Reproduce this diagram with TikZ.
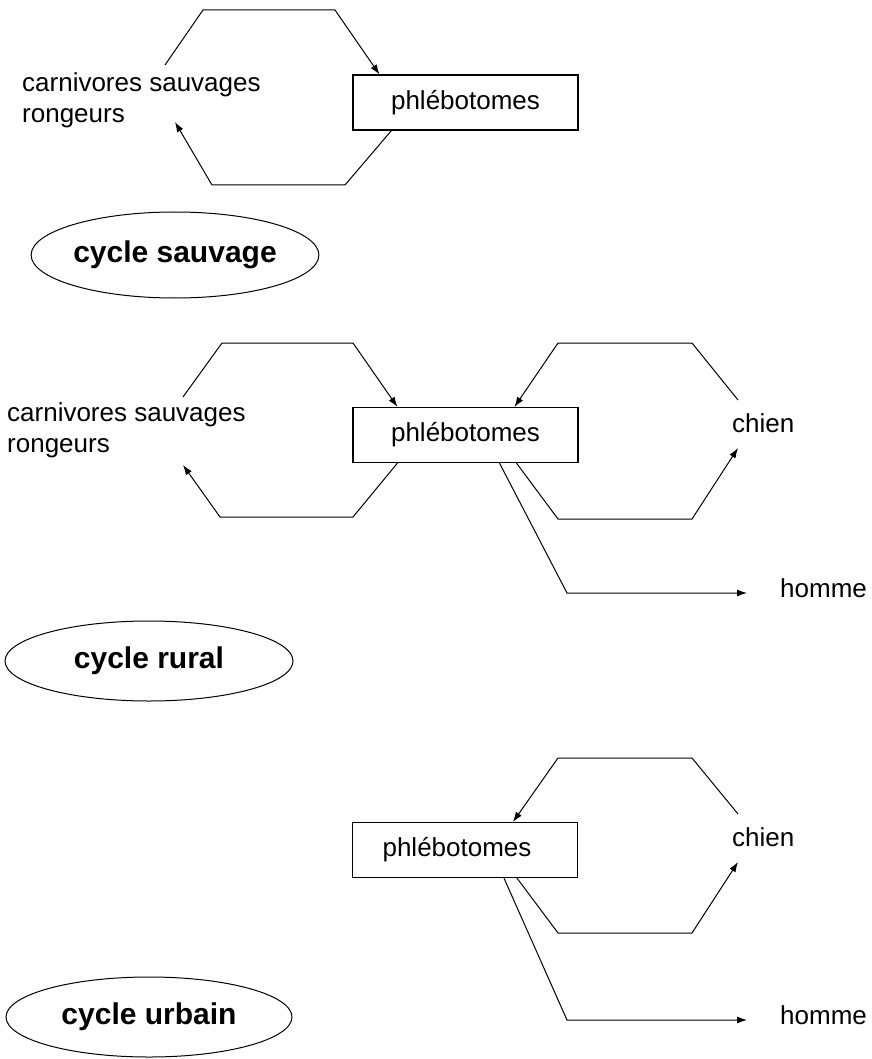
\documentclass[tikz,border=0pt]{standalone}
\usepackage{fontspec}
\setmainfont{Liberation Sans}
\usetikzlibrary{arrows.meta,shapes.geometric}
\tikzset{
  lbl/.style={font=\fontsize{26}{31}\selectfont, inner sep=0pt, align=left},
  vbox/.style={draw, line width=1.1pt, minimum width=225pt, minimum height=55pt, inner sep=0pt, font=\fontsize{26}{31}\selectfont},
  cyc/.style={draw, ellipse, line width=1pt, inner sep=0pt, font=\fontsize{30}{36}\selectfont\bfseries},
  arr/.style={line width=1pt, -{Latex[length=10pt,width=7pt]}}
}
\begin{document}
\begin{tikzpicture}[x=1pt,y=-1pt]
\useasboundingbox (0,0) rectangle (871,1059);
% ---------- cycle sauvage ----------
\node[vbox] (b1) at (465.5,102.5) {phlébotomes};
\node[lbl, anchor=west] (h1) at (22,100) {carnivores sauvages\\rongeurs};
\coordinate (a1) at (165,65);
\coordinate (a2) at (203,10);
\coordinate (a3) at (335,10);
\coordinate (a4) at (345,185);
\coordinate (a5) at (212,185);
\coordinate (a6) at (175,122);
\draw[arr] (a1) -- (a2) -- (a3) -- ([xshift=27pt]b1.north west);
\draw[arr] ([xshift=39pt]b1.south west) -- (a4) -- (a5) -- (a6);
\node[cyc, minimum width=281pt, minimum height=86pt] (e1) at (175,255) {cycle sauvage};
% ---------- cycle rural ----------
\node[vbox] (b2) at (465.5,435) {phlébotomes};
\node[lbl, anchor=west] (h2) at (7,430) {carnivores sauvages\\rongeurs};
\coordinate (c1) at (183,397);
\coordinate (c2) at (222,343);
\coordinate (c3) at (353,343);
\coordinate (c4) at (353,517);
\coordinate (c5) at (220,517);
\coordinate (c6) at (183,465);
\draw[arr] (c1) -- (c2) -- (c3) -- ([xshift=45pt]b2.north west);
\draw[arr] ([xshift=45pt]b2.south west) -- (c4) -- (c5) -- (c6);
\node[lbl, anchor=west] (d2) at (732,423) {chien};
\node[lbl, anchor=west] (m2) at (780,588) {homme};
\coordinate (r1) at (738,400);
\coordinate (r2) at (692,343);
\coordinate (r3) at (558,343);
\coordinate (r4) at (558,519);
\coordinate (r5) at (692,519);
\coordinate (r6) at (738,448);
\coordinate (k1) at (567,593);
\coordinate (k2) at (747,593);
\draw[arr] (r1) -- (r2) -- (r3) -- ([xshift=162pt]b2.north west);
\draw[arr] ([xshift=164pt]b2.south west) -- (r4) -- (r5) -- (r6);
\draw[arr] ([xshift=147pt]b2.south west) -- (k1) -- (k2);
\node[cyc, minimum width=288pt, minimum height=80pt] (e2) at (149,661) {cycle rural};
% ---------- cycle urbain ----------
\node[vbox] (b3) at (465,850) {phlébotomes\kern16pt};
\node[lbl, anchor=west] (d3) at (732,837) {chien};
\node[lbl, anchor=west] (m3) at (780,1015) {homme};
\coordinate (s1) at (738,814);
\coordinate (s2) at (692,758);
\coordinate (s3) at (558,758);
\coordinate (s4) at (558,933);
\coordinate (s5) at (692,933);
\coordinate (s6) at (738,862);
\coordinate (u1) at (567,1020);
\coordinate (u2) at (747,1020);
\draw[arr] (s1) -- (s2) -- (s3) -- ([xshift=161pt]b3.north west);
\draw[arr] ([xshift=165pt]b3.south west) -- (s4) -- (s5) -- (s6);
\draw[arr] ([xshift=152pt]b3.south west) -- (u1) -- (u2);
\node[cyc, minimum width=286pt, minimum height=80pt] (e3) at (149,1017) {cycle urbain};
\end{tikzpicture}
\end{document}
